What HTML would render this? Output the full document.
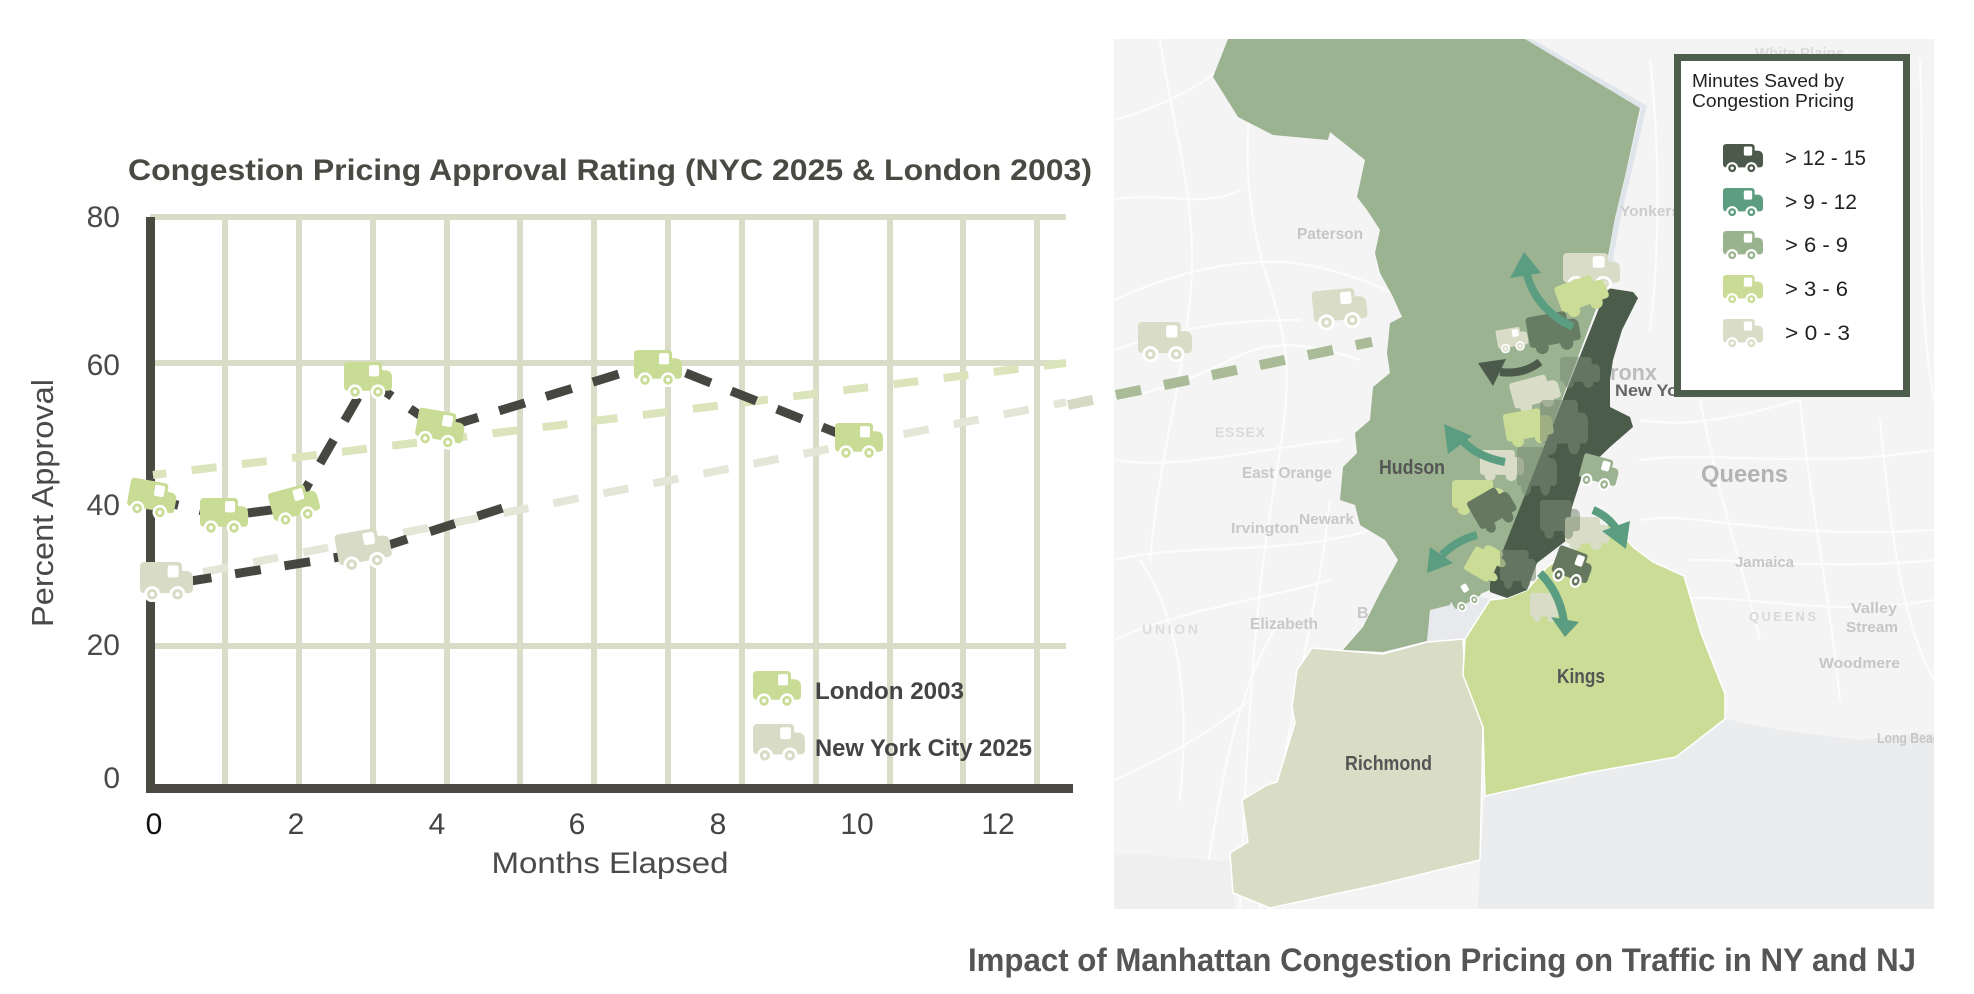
<!DOCTYPE html>
<html><head><meta charset="utf-8"><style>
html,body{margin:0;padding:0;background:#fff;}
svg{display:block;}
text{font-family:"Liberation Sans",sans-serif;}
</style></head><body>
<svg width="1974" height="994" viewBox="0 0 1974 994" xmlns="http://www.w3.org/2000/svg">
<defs>
<symbol id="t" viewBox="0 0 48 36" preserveAspectRatio="none">
<path d="M0,4 Q0,0 4,0 H34 Q38,0 38,4 V8 H41 Q48,8 48,15 V24 Q48,28 44,28 H4 Q0,28 0,24 Z" fill="currentColor"/>
<rect x="25" y="3" width="10" height="11" rx="2" fill="#fff"/>
<circle cx="11" cy="29" r="6" fill="currentColor" stroke="#fff" stroke-width="2.5"/>
<circle cx="11" cy="29" r="2" fill="#fff"/>
<circle cx="34" cy="29" r="6" fill="currentColor" stroke="#fff" stroke-width="2.5"/>
<circle cx="34" cy="29" r="2" fill="#fff"/>
</symbol>
<symbol id="ts" viewBox="0 0 48 36" preserveAspectRatio="none">
<path d="M0,4 Q0,0 4,0 H34 Q38,0 38,4 V8 H41 Q48,8 48,15 V24 Q48,28 44,28 H4 Q0,28 0,24 Z" fill="currentColor"/>
<circle cx="11" cy="29" r="6" fill="currentColor"/>
<circle cx="34" cy="29" r="6" fill="currentColor"/>
</symbol>
<clipPath id="mapclip"><rect x="1114" y="39" width="820" height="870"/></clipPath>
</defs>
<rect width="1974" height="994" fill="#fff"/>

<!-- ================= CHART ================= -->
<text x="128" y="180" font-size="30" font-weight="bold" fill="#4a4a44" textLength="964" lengthAdjust="spacingAndGlyphs">Congestion Pricing Approval Rating (NYC 2025 &amp; London 2003)</text>

<g stroke="#d9dcc6" stroke-width="6">
<line x1="150" y1="217" x2="1066" y2="217"/>
<line x1="150" y1="363" x2="1066" y2="363"/>
<line x1="150" y1="646" x2="1066" y2="646"/>
<line x1="225" y1="217" x2="225" y2="789"/>
<line x1="299" y1="217" x2="299" y2="789"/>
<line x1="373" y1="217" x2="373" y2="789"/>
<line x1="447" y1="217" x2="447" y2="789"/>
<line x1="520" y1="217" x2="520" y2="789"/>
<line x1="594" y1="217" x2="594" y2="789"/>
<line x1="668" y1="217" x2="668" y2="789"/>
<line x1="742" y1="217" x2="742" y2="789"/>
<line x1="816" y1="217" x2="816" y2="789"/>
<line x1="890" y1="217" x2="890" y2="789"/>
<line x1="963" y1="217" x2="963" y2="789"/>
<line x1="1037" y1="217" x2="1037" y2="789"/>
</g>
<rect x="146" y="217" width="9" height="576" fill="#4a4a43"/>
<rect x="146" y="784" width="927" height="9" fill="#4a4a43"/>

<g font-size="30" fill="#4a4a4a" text-anchor="end">
<text x="120" y="227">80</text>
<text x="120" y="375">60</text>
<text x="120" y="515">40</text>
<text x="120" y="655">20</text>
<text x="120" y="788">0</text>
</g>
<g font-size="30" fill="#444" text-anchor="middle">
<text x="154" y="834" fill="#111">0</text>
<text x="296" y="834">2</text>
<text x="437" y="834">4</text>
<text x="577" y="834">6</text>
<text x="718" y="834">8</text>
<text x="857" y="834">10</text>
<text x="998" y="834">12</text>
</g>
<text x="610" y="873" font-size="30" fill="#4a4a4a" text-anchor="middle" textLength="237" lengthAdjust="spacingAndGlyphs">Months Elapsed</text>
<text transform="translate(53,503) rotate(-90)" font-size="31" fill="#4a4a4a" text-anchor="middle" textLength="248" lengthAdjust="spacingAndGlyphs">Percent Approval</text>

<line x1="153" y1="475" x2="1066" y2="363" stroke="#dbe4bb" stroke-width="8" stroke-dasharray="25 25.5" stroke-dashoffset="11.5"/>
<line x1="175" y1="577.7" x2="1066" y2="402.2" stroke="#e4e7d8" stroke-width="8" stroke-dasharray="25.5 25.5" stroke-dashoffset="22.4"/>

<polyline points="152,499 224,516 295,507 368,380 440,429 658,362 860,442" fill="none" stroke="#474741" stroke-width="9" stroke-dasharray="27 22"/>
<polyline points="166,585 364,553 512,505" fill="none" stroke="#474741" stroke-width="9" stroke-dasharray="26 24" stroke-dashoffset="-20"/>

<g>
<use href="#t" x="128" y="481" width="48" height="37" style="color:#c9dc96" transform="rotate(10 152 499)"/>
<use href="#t" x="200" y="498" width="48" height="37" style="color:#c9dc96"/>
<use href="#t" x="271" y="487" width="48" height="37" style="color:#c9dc96" transform="rotate(-15 295 505)"/>
<use href="#t" x="344" y="362" width="48" height="37" style="color:#c9dc96"/>
<use href="#t" x="416" y="411" width="48" height="37" style="color:#c9dc96" transform="rotate(10 440 429)"/>
<use href="#t" x="634" y="350" width="48" height="37" style="color:#c9dc96"/>
<use href="#t" x="835" y="423" width="48" height="37" style="color:#c9dc96"/>
<use href="#t" x="140" y="562" width="53" height="40" style="color:#d8dcc7"/>
<use href="#t" x="337" y="530" width="54" height="40" style="color:#d8dcc7" transform="rotate(-10 364 550)"/>
</g>

<use href="#t" x="753" y="671" width="48" height="37" style="color:#c9dc96"/>
<use href="#t" x="753" y="724" width="52" height="39" style="color:#d8dcc7"/>
<text x="815" y="699" font-size="24" font-weight="bold" fill="#444" textLength="149" lengthAdjust="spacingAndGlyphs">London 2003</text>
<text x="815" y="756" font-size="24" font-weight="bold" fill="#444" textLength="217" lengthAdjust="spacingAndGlyphs">New York City 2025</text>

<!-- ================= MAP ================= -->
<g clip-path="url(#mapclip)">
<rect x="1114" y="39" width="820" height="870" fill="#f4f4f4"/>
<g fill="none" stroke="#fcfcfc" stroke-width="2.2" stroke-linecap="round">
<path d="M1114,300 C1180,270 1260,250 1330,270 S1400,300 1420,310"/>
<path d="M1114,350 C1170,330 1220,320 1300,320"/>
<path d="M1160,39 C1170,120 1200,200 1190,300 S1160,450 1150,560"/>
<path d="M1262,39 C1250,100 1240,150 1255,230 S1300,330 1280,450 S1250,650 1240,909"/>
<path d="M1114,460 C1180,470 1250,450 1340,440"/>
<path d="M1114,560 C1200,540 1300,560 1400,520"/>
<path d="M1114,640 C1180,610 1260,600 1330,580"/>
<path d="M1330,500 C1320,600 1290,700 1260,909"/>
<path d="M1114,780 C1160,760 1200,740 1250,700"/>
<path d="M1200,909 C1220,800 1230,700 1280,620"/>
<path d="M1114,120 C1150,110 1200,90 1230,60"/>
<path d="M1114,200 C1160,190 1200,210 1240,190"/>
<path d="M1114,400 C1160,390 1190,380 1230,360 S1300,340 1360,360"/>
<path d="M1140,560 C1180,620 1190,700 1180,800"/>
<path d="M1640,460 C1720,450 1800,470 1934,450"/>
<path d="M1640,520 C1700,510 1760,540 1934,530"/>
<path d="M1700,400 C1720,500 1740,560 1760,640"/>
<path d="M1800,400 C1810,500 1830,600 1840,700"/>
<path d="M1880,420 C1890,520 1900,620 1934,680"/>
<path d="M1660,600 C1740,590 1820,620 1934,600"/>
<path d="M1640,420 C1700,430 1760,410 1800,400"/>
<path d="M1690,560 C1760,560 1840,570 1934,560"/>
<path d="M1650,60 C1660,150 1660,250 1650,330"/>
<path d="M1920,60 C1925,150 1915,300 1934,400"/>
</g>
<polygon points="1478,909 1480,860 1485,796 1587,773 1676,757 1725,719 1780,730 1860,740 1934,733 1934,909" fill="#ebecee"/>
<polygon points="1114,855 1150,855 1232,862 1235,909 1114,909" fill="#efeff0"/>
<polygon points="1420,600 1452,590 1475,596 1495,600 1470,640 1425,645" fill="#e8e9ec"/>
<polyline points="1527,39 1644,107 1629,172 1618,218 1609,267 1606,290" fill="none" stroke="#dfe5eb" stroke-width="5"/>

<polygon fill="#9bb391" points="1228,39 1525,39 1640,108 1626,172 1615,218 1606,267 1604,288 1490,590 1470,598 1452,598 1450,605 1430,610 1427,641 1383,652 1343,650 1363,627 1380,593 1398,560 1385,540 1360,525 1355,505 1340,500 1343,467 1357,453 1355,433 1370,420 1373,387 1390,373 1387,353 1390,323 1402,317 1393,297 1380,273 1375,253 1380,230 1367,210 1357,197 1365,160 1330,132 1328,140 1273,135 1238,117 1213,77"/>
<polygon fill="#d9ddc6" stroke="#fff" stroke-width="1.5" points="1312,648 1383,654 1427,642 1463,639 1465,677 1483,727 1480,860 1377,885 1270,908 1233,893 1230,853 1248,842 1242,800 1267,785 1277,782 1295,723 1292,707 1297,670"/>
<polygon fill="#cbdc97" stroke="#fff" stroke-width="1.5" points="1465,639 1490,600 1507,598 1527,590 1547,567 1567,553 1587,530 1613,523 1633,547 1653,562 1684,576 1701,633 1725,694 1725,719 1676,757 1587,773 1485,796 1483,727 1463,675"/>
<polygon fill="#4b5c4b" points="1607,288 1633,292 1638,298 1622,330 1613,360 1610,380 1610,407 1630,417 1633,427 1610,447 1583,473 1572,507 1567,540 1537,563 1527,590 1507,598 1490,592 1490,583"/>
</g>
<line x1="1068" y1="405" x2="1372" y2="341.8" stroke="#d6dac5" stroke-width="10" stroke-dasharray="25.5 23.5"/>
<g clip-path="url(#mapclip)">
<line x1="1068" y1="405" x2="1372" y2="341.8" stroke="#a9bb97" stroke-width="10" stroke-dasharray="25.5 23.5"/>

<use href="#t" x="1138" y="322" width="54" height="40" style="color:#d9dcc7"/>
<use href="#t" x="1313" y="289" width="54" height="40" style="color:#d9dcc7" transform="rotate(-5 1340 309)"/>

<g>
<use href="#t" x="1563" y="253" width="57" height="38" style="color:#d9dcc7"/>
<use href="#ts" x="1558" y="278" width="50" height="36" style="color:#cbdc97" transform="rotate(-20 1583 296)"/>
<use href="#t" x="1497" y="328" width="31" height="24" style="color:#d9dcc7" transform="rotate(-10 1512 340)"/>
<use href="#ts" x="1528" y="313" width="52" height="40" style="color:#687b63" transform="rotate(-10 1554 333)"/>
<use href="#ts" x="1512" y="377" width="48" height="34" style="color:#d9dcc7" transform="rotate(-15 1536 394)"/>
<use href="#ts" x="1505" y="410" width="48" height="36" style="color:#cbdc97" transform="rotate(-10 1529 428)"/>
<use href="#ts" x="1480" y="450" width="44" height="32" style="color:#d9dcc7"/>
<use href="#ts" x="1452" y="480" width="52" height="36" style="color:#cbdc97"/>
<use href="#ts" x="1473" y="490" width="42" height="40" style="color:#667860" transform="rotate(-30 1494 510)"/>
<use href="#t" x="1580" y="457" width="38" height="32" style="color:#9bb391" transform="rotate(15 1599 473)"/>
<use href="#ts" x="1565" y="517" width="44" height="34" style="color:#d9dcc7"/>
<use href="#t" x="1553" y="550" width="38" height="36" style="color:#667860" transform="rotate(20 1572 568)"/>
<use href="#ts" x="1530" y="593" width="30" height="30" style="color:#d9dcc7"/>
<use href="#ts" x="1470" y="545" width="34" height="36" style="color:#cbdc97" transform="rotate(-60 1487 563)"/>
<use href="#t" x="1450" y="583" width="30" height="26" style="color:#9bb391" transform="rotate(-30 1465 596)"/>
<g opacity="0.55">
<use href="#ts" x="1540" y="400" width="48" height="56" style="color:#7a8b73"/>
<use href="#ts" x="1560" y="357" width="40" height="32" style="color:#7a8b73"/>
<use href="#ts" x="1517" y="447" width="40" height="50" style="color:#7a8b73"/>
<use href="#ts" x="1540" y="500" width="40" height="40" style="color:#7a8b73"/>
<use href="#ts" x="1500" y="550" width="36" height="40" style="color:#7a8b73"/>
</g>
</g>

<g fill="none" stroke-width="8">
<path d="M1573,327 Q1537,310 1527,275" stroke="#5b9d80"/>
<path d="M1540,362 Q1523,375 1500,372" stroke="#4b5a4a"/>
<path d="M1505,462 Q1477,457 1462,440" stroke="#5b9d80"/>
<path d="M1477,535 Q1457,540 1442,555" stroke="#5b9d80"/>
<path d="M1593,510 Q1610,517 1618,532" stroke="#5b9d80"/>
<path d="M1540,573 Q1560,593 1564,622" stroke="#5b9d80"/>
</g>
<polygon points="1510,278 1524,252 1541,273" fill="#5b9d80"/>
<polygon points="1478,363 1506,359 1493,386" fill="#4b5a4a"/>
<polygon points="1444,424 1472,436 1448,454" fill="#5b9d80"/>
<polygon points="1427,573 1430,547 1453,563" fill="#5b9d80"/>
<polygon points="1602,531 1630,521 1626,549" fill="#5b9d80"/>
<polygon points="1551,617 1579,622 1565,637" fill="#5b9d80"/>

<g font-weight="bold">
<text x="1297" y="239" font-size="16" fill="#c6c6c6" textLength="66" lengthAdjust="spacingAndGlyphs">Paterson</text>
<text x="1215" y="437" font-size="14" fill="#dadada" textLength="50" lengthAdjust="spacing">ESSEX</text>
<text x="1242" y="478" font-size="16" fill="#c8c8c8" textLength="90" lengthAdjust="spacingAndGlyphs">East Orange</text>
<text x="1231" y="533" font-size="15" fill="#c8c8c8" textLength="68" lengthAdjust="spacingAndGlyphs">Irvington</text>
<text x="1299" y="524" font-size="15" fill="#c8c8c8" textLength="55" lengthAdjust="spacingAndGlyphs">Newark</text>
<text x="1250" y="629" font-size="16" fill="#c8c8c8" textLength="68" lengthAdjust="spacingAndGlyphs">Elizabeth</text>
<text x="1142" y="634" font-size="14" fill="#dcdcdc" textLength="56" lengthAdjust="spacing">UNION</text>
<text x="1357" y="618" font-size="16" fill="#c8c8c8">B</text>
<text x="1379" y="474" font-size="20" fill="#555" textLength="66" lengthAdjust="spacingAndGlyphs">Hudson</text>
<text x="1557" y="683" font-size="20" fill="#555" textLength="48" lengthAdjust="spacingAndGlyphs">Kings</text>
<text x="1345" y="770" font-size="20" fill="#555" textLength="87" lengthAdjust="spacingAndGlyphs">Richmond</text>
<text x="1701" y="482" font-size="24" fill="#b3b3b3" textLength="87" lengthAdjust="spacingAndGlyphs">Queens</text>
<text x="1735" y="567" font-size="15" fill="#c6c6c6" textLength="59" lengthAdjust="spacingAndGlyphs">Jamaica</text>
<text x="1749" y="621" font-size="13" fill="#d8d8d8" textLength="67" lengthAdjust="spacing">QUEENS</text>
<text x="1851" y="613" font-size="15" fill="#c6c6c6" textLength="46" lengthAdjust="spacingAndGlyphs">Valley</text>
<text x="1846" y="632" font-size="15" fill="#c6c6c6" textLength="52" lengthAdjust="spacingAndGlyphs">Stream</text>
<text x="1819" y="668" font-size="15" fill="#c6c6c6" textLength="81" lengthAdjust="spacingAndGlyphs">Woodmere</text>
<text x="1877" y="743" font-size="15" fill="#c6c6c6" textLength="70" lengthAdjust="spacingAndGlyphs">Long Beach</text>
<text x="1620" y="216" font-size="15" fill="#cdcdcd" textLength="60" lengthAdjust="spacingAndGlyphs">Yonkers</text>
<text x="1610" y="380" font-size="22" fill="#bdbdbd" textLength="47" lengthAdjust="spacingAndGlyphs">ronx</text>
<text x="1615" y="396" font-size="17" fill="#666" textLength="80" lengthAdjust="spacingAndGlyphs">New York</text>
<text x="1755" y="58" font-size="15" fill="#dcdcdc">White Plains</text>
</g>

<rect x="1677.5" y="57.5" width="229" height="336" fill="#fff" stroke="#4e5e4c" stroke-width="7"/>
<text x="1692" y="87" font-size="18" fill="#222" textLength="152" lengthAdjust="spacingAndGlyphs">Minutes Saved by</text>
<text x="1692" y="107" font-size="18" fill="#222" textLength="162" lengthAdjust="spacingAndGlyphs">Congestion Pricing</text>
<use href="#t" x="1723" y="144" width="40" height="30" style="color:#4b5a4a"/>
<use href="#t" x="1723" y="188" width="40" height="30" style="color:#5e9e80"/>
<use href="#t" x="1723" y="231" width="40" height="30" style="color:#9ab38f"/>
<use href="#t" x="1723" y="275" width="40" height="30" style="color:#c9db94"/>
<use href="#t" x="1723" y="319" width="40" height="30" style="color:#d9dcc6"/>
<g font-size="21" fill="#222">
<text x="1785" y="165" textLength="81" lengthAdjust="spacingAndGlyphs">&gt; 12 - 15</text>
<text x="1785" y="209" textLength="72" lengthAdjust="spacingAndGlyphs">&gt; 9 - 12</text>
<text x="1785" y="252" textLength="63" lengthAdjust="spacingAndGlyphs">&gt; 6 - 9</text>
<text x="1785" y="296" textLength="63" lengthAdjust="spacingAndGlyphs">&gt; 3 - 6</text>
<text x="1785" y="340" textLength="65" lengthAdjust="spacingAndGlyphs">&gt; 0 - 3</text>
</g>
</g>

<text x="968" y="971" font-size="32" font-weight="bold" fill="#555" textLength="948" lengthAdjust="spacingAndGlyphs">Impact of Manhattan Congestion Pricing on Traffic in NY and NJ</text>
</svg>
</body></html>
